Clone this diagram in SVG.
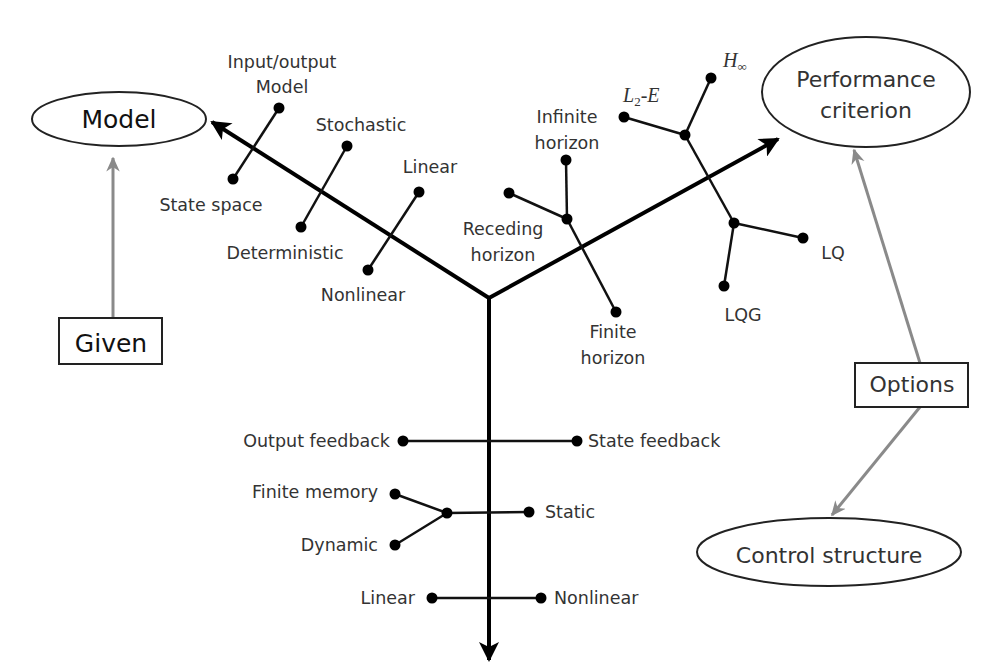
<svg xmlns="http://www.w3.org/2000/svg" width="984" height="662" viewBox="0 0 984 662">
<style>
.main{stroke:#000;stroke-width:4;fill:none}
.br{stroke:#111;stroke-width:2.5;fill:none}
.gray{stroke:#8a8a8a;stroke-width:3;fill:none}
.dot{fill:#000}
.lbl{font-family:"DejaVu Sans",Verdana,sans-serif;font-size:17.5px;fill:#333}
.big{font-family:"DejaVu Sans",Verdana,sans-serif;font-size:25px;fill:#111}
.mid{font-family:"DejaVu Sans",Verdana,sans-serif;font-size:22px;fill:#333}
.math{font-family:"Liberation Serif","DejaVu Serif",serif;font-size:20px;font-style:italic;fill:#333}
.shape{fill:#fff;stroke:#222;stroke-width:2}
</style>
<defs>
<marker id="ah" viewBox="0 0 10 10" refX="9" refY="5" markerWidth="5.5" markerHeight="5" orient="auto" markerUnits="strokeWidth">
<path d="M0,0 L10,5 L0,10 L2.5,5 Z" fill="#000"/>
</marker>
<marker id="gh" viewBox="0 0 10 10" refX="9" refY="5" markerWidth="5" markerHeight="5" orient="auto" markerUnits="strokeWidth">
<path d="M0,0.5 L10,5 L0,9.5 L3,5 Z" fill="#8a8a8a"/>
</marker>
</defs>
<rect width="984" height="662" fill="#fff"/>

<g id="connectors">
<line class="main" x1="489" y1="298" x2="212" y2="122" marker-end="url(#ah)"/>
<line class="main" x1="489" y1="298" x2="778" y2="139" marker-end="url(#ah)"/>
<line class="main" x1="489" y1="296" x2="489" y2="660" marker-end="url(#ah)"/>
<line class="gray" x1="113" y1="318" x2="113" y2="158" marker-end="url(#gh)"/>
<line class="gray" x1="920" y1="363" x2="854" y2="150" marker-end="url(#gh)"/>
<line class="gray" x1="920" y1="407" x2="832" y2="515" marker-end="url(#gh)"/>
</g>

<g id="model">
<ellipse class="shape" cx="119" cy="119" rx="87" ry="27"/>
<text class="big" x="119" y="128" text-anchor="middle">Model</text>
</g>
<g id="given">
<rect class="shape" x="59" y="318" width="103" height="46"/>
<text class="big" x="111" y="352" text-anchor="middle">Given</text>
</g>
<g id="performance">
<ellipse class="shape" cx="866" cy="92" rx="104" ry="55"/>
<text class="mid" x="866" y="87" text-anchor="middle">Performance</text>
<text class="mid" x="866" y="118" text-anchor="middle">criterion</text>
</g>
<g id="options">
<rect class="shape" x="855" y="363" width="113" height="44"/>
<text class="mid" x="912" y="392" text-anchor="middle">Options</text>
</g>
<g id="control">
<ellipse class="shape" cx="829" cy="552" rx="132" ry="34"/>
<text class="mid" x="829" y="563" text-anchor="middle">Control structure</text>
</g>

<g id="model-branches">
<line class="br" x1="279" y1="108" x2="233" y2="179"/>
<circle class="dot" cx="279" cy="108" r="5.5"/><circle class="dot" cx="233" cy="179" r="5.5"/>
<text class="lbl" x="282" y="68" text-anchor="middle">Input/output</text>
<text class="lbl" x="282" y="93" text-anchor="middle">Model</text>
<text class="lbl" x="211" y="211" text-anchor="middle">State space</text>
<line class="br" x1="347" y1="146" x2="301" y2="227"/>
<circle class="dot" cx="347" cy="146" r="5.5"/><circle class="dot" cx="301" cy="227" r="5.5"/>
<text class="lbl" x="361" y="131" text-anchor="middle">Stochastic</text>
<text class="lbl" x="285" y="259" text-anchor="middle">Deterministic</text>
<line class="br" x1="419" y1="192" x2="368" y2="270"/>
<circle class="dot" cx="419" cy="192" r="5.5"/><circle class="dot" cx="368" cy="270" r="5.5"/>
<text class="lbl" x="430" y="173" text-anchor="middle">Linear</text>
<text class="lbl" x="363" y="301" text-anchor="middle">Nonlinear</text>
</g>

<g id="horizon-branches">
<line class="br" x1="566" y1="160" x2="567" y2="219"/>
<line class="br" x1="509" y1="193" x2="567" y2="219"/>
<line class="br" x1="567" y1="219" x2="616" y2="312"/>
<circle class="dot" cx="566" cy="160" r="5.5"/><circle class="dot" cx="509" cy="193" r="5.5"/>
<circle class="dot" cx="567" cy="219" r="5.5"/><circle class="dot" cx="616" cy="312" r="5.5"/>
<text class="lbl" x="567" y="123" text-anchor="middle">Infinite</text>
<text class="lbl" x="567" y="149" text-anchor="middle">horizon</text>
<text class="lbl" x="503" y="235" text-anchor="middle">Receding</text>
<text class="lbl" x="503" y="261" text-anchor="middle">horizon</text>
<text class="lbl" x="613" y="338" text-anchor="middle">Finite</text>
<text class="lbl" x="613" y="364" text-anchor="middle">horizon</text>
</g>

<g id="criterion-branches">
<line class="br" x1="624" y1="117" x2="685" y2="135"/>
<line class="br" x1="711" y1="78" x2="685" y2="135"/>
<line class="br" x1="685" y1="135" x2="734" y2="223"/>
<line class="br" x1="734" y1="223" x2="803" y2="238"/>
<line class="br" x1="734" y1="223" x2="724" y2="286"/>
<circle class="dot" cx="624" cy="117" r="5.5"/><circle class="dot" cx="711" cy="78" r="5.5"/>
<circle class="dot" cx="685" cy="135" r="5.5"/><circle class="dot" cx="734" cy="223" r="5.5"/>
<circle class="dot" cx="803" cy="238" r="5.5"/><circle class="dot" cx="724" cy="286" r="5.5"/>
<text class="math" x="623" y="102">L<tspan font-style="normal" font-size="13" dy="4">2</tspan><tspan dy="-4" font-style="normal">-</tspan>E</text>
<text class="math" x="723" y="67">H<tspan font-style="normal" font-size="13" dy="4">∞</tspan></text>
<text class="lbl" x="833" y="259" text-anchor="middle">LQ</text>
<text class="lbl" x="743" y="321" text-anchor="middle">LQG</text>
</g>

<g id="structure-branches">
<line class="br" x1="403" y1="441" x2="577" y2="441"/>
<circle class="dot" cx="403" cy="441" r="5.5"/><circle class="dot" cx="577" cy="441" r="5.5"/>
<text class="lbl" x="390" y="447" text-anchor="end">Output feedback</text>
<text class="lbl" x="588" y="447">State feedback</text>
<line class="br" x1="395" y1="494" x2="447" y2="513"/>
<line class="br" x1="395" y1="545" x2="447" y2="513"/>
<line class="br" x1="447" y1="513" x2="529" y2="512"/>
<circle class="dot" cx="395" cy="494" r="5.5"/><circle class="dot" cx="395" cy="545" r="5.5"/>
<circle class="dot" cx="447" cy="513" r="5.5"/><circle class="dot" cx="529" cy="512" r="5.5"/>
<text class="lbl" x="378" y="498" text-anchor="end">Finite memory</text>
<text class="lbl" x="378" y="551" text-anchor="end">Dynamic</text>
<text class="lbl" x="545" y="518">Static</text>
<line class="br" x1="432" y1="598" x2="541" y2="598"/>
<circle class="dot" cx="432" cy="598" r="5.5"/><circle class="dot" cx="541" cy="598" r="5.5"/>
<text class="lbl" x="415" y="604" text-anchor="end">Linear</text>
<text class="lbl" x="554" y="604">Nonlinear</text>
</g>
</svg>
